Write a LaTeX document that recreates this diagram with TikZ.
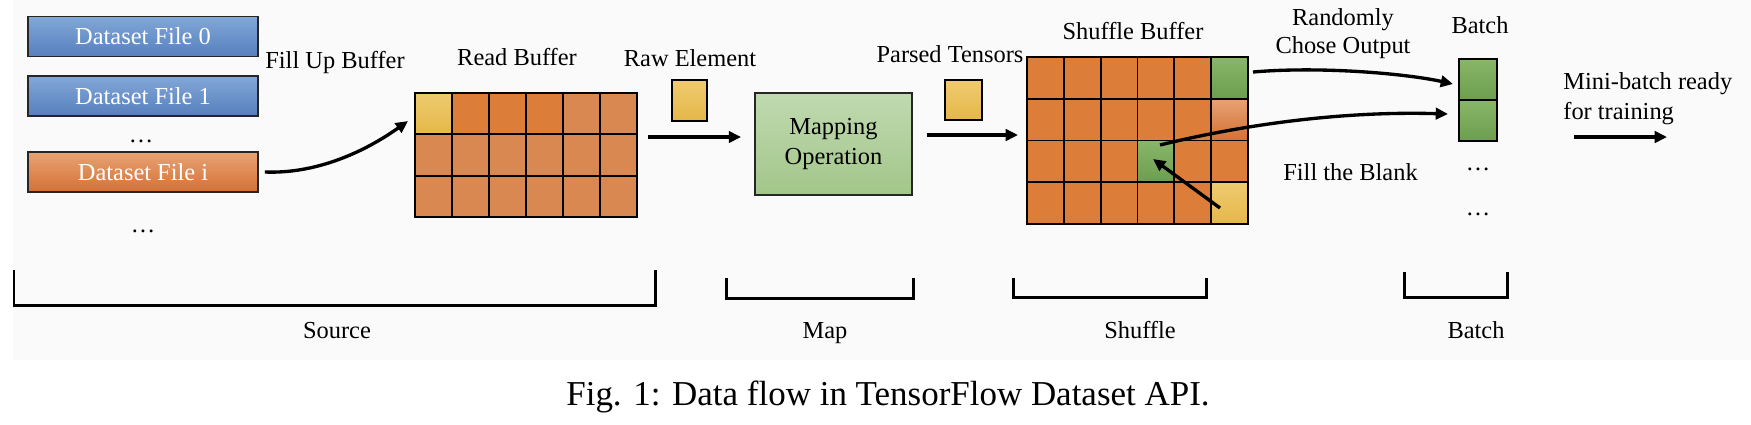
\documentclass[tikz,border=0pt]{standalone}
\usepackage{fontspec}
\setmainfont{Liberation Serif}
\usetikzlibrary{arrows.meta}

\definecolor{bgGray}{RGB}{250,250,250}
\definecolor{blueTop}{RGB}{130,167,215}
\definecolor{blueBot}{RGB}{86,128,190}
\definecolor{orgTop}{RGB}{232,162,116}
\definecolor{orgBot}{RGB}{212,113,52}
\definecolor{cellOrange}{RGB}{221,125,58}
\definecolor{cellLight}{RGB}{217,136,82}
\definecolor{yelTop}{RGB}{239,203,112}
\definecolor{yelBot}{RGB}{228,183,72}
\definecolor{grnTop}{RGB}{137,182,104}
\definecolor{grnBot}{RGB}{108,158,80}
\definecolor{mapTop}{RGB}{192,218,176}
\definecolor{mapBot}{RGB}{162,198,138}

\tikzset{
  lbl/.style={font=\fontsize{13.9}{17.6}\selectfont, inner sep=0pt},
  file/.style={draw=black!85, line width=1.1pt, minimum width=4.6cm, minimum height=0.8cm,
    inner sep=0pt, text=white, font=\fontsize{13.9}{17.6}\selectfont},
  bluefile/.style={file, top color=blueTop, bottom color=blueBot},
  orangefile/.style={file, top color=orgTop, bottom color=orgBot},
  cell/.style={draw=black, line width=1.1pt},
  yelcell/.style={cell, top color=yelTop, bottom color=yelBot},
  grncell/.style={cell, top color=grnTop, bottom color=grnBot},
  mapbox/.style={draw=black!85, line width=1.1pt, top color=mapTop, bottom color=mapBot,
    minimum width=3.14cm, minimum height=2.04cm, align=center, inner sep=0pt,
    font=\fontsize{13.9}{17.6}\selectfont},
  flow/.style={line width=1.9pt, -{Triangle[length=7pt,width=6.5pt]}},
  bracket/.style={line width=1.7pt},
}

\begin{document}
\begin{tikzpicture}[x=0.02cm,y=-0.02cm]
 \useasboundingbox (0,0) rectangle (1751,424);
 \fill[bgGray] (13,0) rectangle (1751,360);

 % dataset files
 \node[bluefile] (file0) at (143,36.5) {Dataset File 0};
 \node[bluefile] (file1) at (143,96) {Dataset File 1};
 \node[lbl, anchor=base] (fdots1) at (141,142) {…};
 \node[orangefile] (filei) at (143,172) {Dataset File i};
 \node[lbl, anchor=base] (fdots2) at (143,232) {…};

 % read buffer
 \foreach \r in {0,1,2}
  \foreach \c in {0,...,5}
   \filldraw[cell, fill=cellLight] ({415+37*\c},{93+41.33*\r}) rectangle +(37,41.33);
 \foreach \c in {1,2,3}
  \filldraw[cell, fill=cellOrange] ({415+37*\c},93) rectangle +(37,41.33);
 \draw[yelcell] (415,93) rectangle +(37,41.33);

 % map
 \draw[yelcell] (672,80) rectangle (707,121);
 \node[mapbox] (map) at (833.5,144) {Mapping\\Operation};
 \draw[yelcell] (945,80) rectangle (982,120);

 % shuffle buffer
 \foreach \r in {0,...,3}
  \foreach \c in {0,...,5}
   \filldraw[cell, fill=cellOrange] ({1027+36.83*\c},{57+41.75*\r}) rectangle +(36.83,41.75);
 \draw[grncell] ({1027+36.83*5},57) rectangle +(36.83,41.75);
 \draw[cell, top color=orgTop, bottom color=orgBot] ({1027+36.83*5},{57+41.75}) rectangle +(36.83,41.75);
 \draw[grncell] ({1027+36.83*3},{57+41.75*2}) rectangle +(36.83,41.75);
 \draw[yelcell] ({1027+36.83*5},{57+41.75*3}) rectangle +(36.83,41.75);

 % batch
 \draw[grncell] (1459,59) rectangle (1497,100);
 \draw[grncell] (1459,100) rectangle (1497,141);
 \node[lbl, anchor=base] (bdots1) at (1478,170) {…};
 \node[lbl, anchor=base] (bdots2) at (1478,215) {…};

 % labels
 \node[lbl, anchor=base west] (fillup) at (265,68) {Fill Up Buffer};
 \node[lbl, anchor=base] (readlbl) at (517,65) {Read Buffer};
 \node[lbl, anchor=base] (rawlbl) at (690,66) {Raw Element};
 \node[lbl, anchor=base] (parsedlbl) at (950,62) {Parsed Tensors};
 \node[lbl, anchor=base] (shufflbl) at (1133,39) {Shuffle Buffer};
 \node[lbl, anchor=base] (pick1) at (1343,25) {Randomly};
 \node[lbl, anchor=base] (pick2) at (1343,53) {Chose Output};
 \node[lbl, anchor=base] (batchlbl) at (1480,33) {Batch};
 \node[lbl, anchor=base west] (ready1) at (1563,89) {Mini-batch ready};
 \node[lbl, anchor=base west] (ready2) at (1563,119) {for training};
 \node[lbl, anchor=base west] (blanklbl) at (1283,180) {Fill the Blank};

 % arrows
 \coordinate (fillend) at (408,121);
 \coordinate (rawout) at (648,137);
 \coordinate (sbin) at (1018,135);
 \coordinate (pick) at (1253,72);
 \coordinate (batchin1) at (1453,84);
 \coordinate (blank) at (1160,145);
 \coordinate (batchin2) at (1448,114);
 \coordinate (spare) at (1220,208);
 \coordinate (blankin) at (1153,159);
 \coordinate (outA) at (1574,137);
 \coordinate (outB) at (1667,137);
 \draw[flow] ([xshift=0.12cm]filei.east) .. controls +(50,2) and +(-45,32) .. (fillend);
 \draw[flow, shorten >=0.26cm] (rawout) -- (rawout -| map.west);
 \draw[flow, shorten <=0.28cm] (map.east |- sbin) -- (sbin);
 \draw[flow] (pick) .. controls +(70,-6) and +(-45,-10) .. (batchin1);
 \draw[flow] (blank) .. controls +(90,-22) and +(-100,-3) .. (batchin2);
 \draw[flow] (spare) -- (blankin);
 \draw[flow] (outA) -- (outB);

 % stage brackets
 \draw[bracket] (14,270) |- (655,305) -- (655,270);
 \draw[bracket] (726,278) |- (913,298) -- (913,278);
 \draw[bracket] (1013,278) |- (1206,297) -- (1206,278);
 \draw[bracket] (1404,272) |- (1507,297) -- (1507,272);
 \node[lbl, anchor=base] (srclbl) at (337,338) {Source};
 \node[lbl, anchor=base] (maplbl) at (825,338) {Map};
 \node[lbl, anchor=base] (shflbl) at (1140,338) {Shuffle};
 \node[lbl, anchor=base] (btclbl) at (1476,338) {Batch};

 \node[anchor=base, inner sep=0pt, font=\fontsize{19.9}{24}\selectfont] (caption) at (888,405)
  {Fig. 1: Data flow in TensorFlow Dataset API.};
\end{tikzpicture}
\end{document}
